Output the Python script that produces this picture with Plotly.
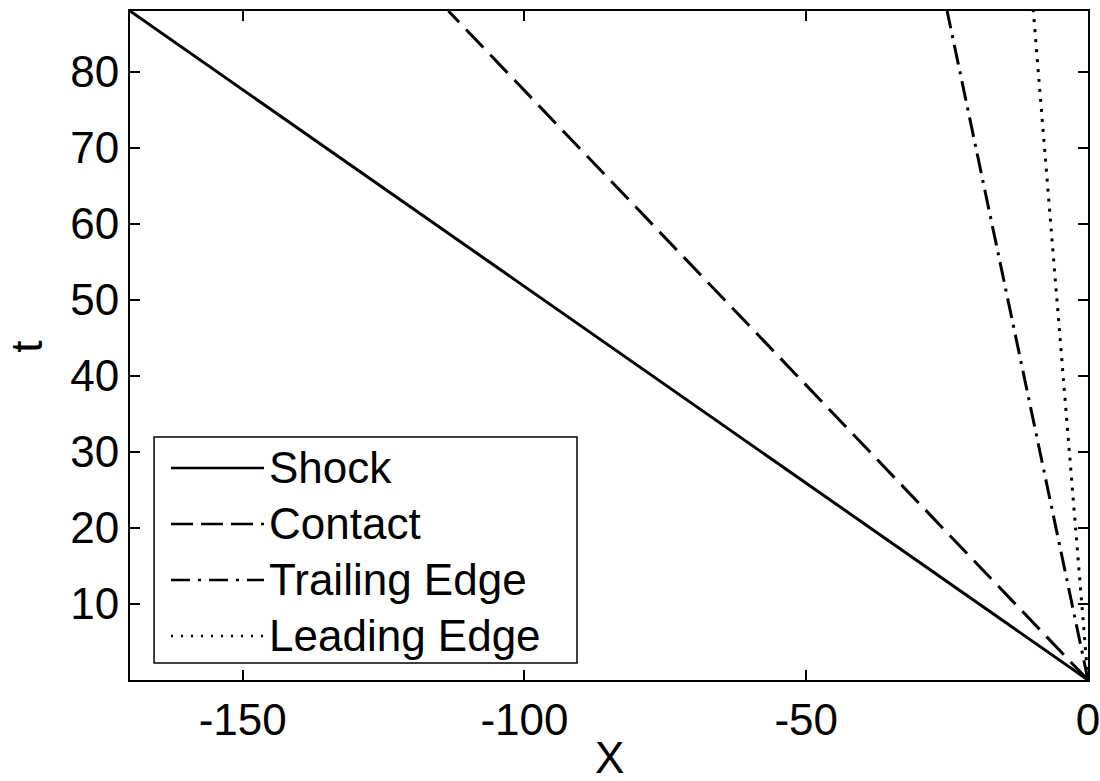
import plotly.graph_objects as go

# ---- data ----
series_names = ["Shock", "Contact", "Trailing Edge", "Leading Edge"]
t_values = [0.0, 88.0]
shock_x = [0.0, -170.0]
contact_x = [0.0, -113.5]
trailing_x = [0.0, -25.0]
leading_x = [0.0, -9.7]

x_ticks = [-150, -100, -50, 0]
x_tick_labels = ["-150", "-100", "-50", "0"]
y_ticks = [10, 20, 30, 40, 50, 60, 70, 80]
y_tick_labels = ["10", "20", "30", "40", "50", "60", "70", "80"]
x_title = "X"
y_title = "t"

FONT = "Liberation Sans, Arial, sans-serif"
FS = 44

dashes_plot = ["solid", "25px,10px", "20px,7px,3px,7px", "3px,7px"]
dashes_leg = ["solid", "22px,8px", "19px,8px,3px,8px", "2px,8px"]
xs = [shock_x, contact_x, trailing_x, leading_x]

fig = go.Figure()
for name, x, d in zip(series_names, xs, dashes_plot):
    fig.add_trace(go.Scatter(x=x, y=t_values, mode="lines", name=name,
                             line=dict(color="black", width=3, dash=d),
                             showlegend=False))

# manual legend (box, sample lines, labels) in paper coordinates
shapes = [dict(type="rect", xref="paper", yref="paper",
               x0=0.0251, x1=0.4666, y0=0.0254, y1=0.3632,
               line=dict(color="black", width=1.5), fillcolor="white", layer="above")]
annotations = []
leg_y = [0.3169, 0.2332, 0.1495, 0.0658]
for name, d, yy in zip(series_names, dashes_leg, leg_y):
    shapes.append(dict(type="line", xref="paper", yref="paper",
                       x0=0.0428, x1=0.1399, y0=yy, y1=yy,
                       line=dict(color="black", width=2.5, dash=d), layer="above"))
    annotations.append(dict(xref="paper", yref="paper", x=0.143, y=yy,
                            xanchor="left", yanchor="middle", text=name,
                            showarrow=False,
                            font=dict(family=FONT, size=FS, color="black")))

# axis titles
annotations.append(dict(xref="paper", yref="paper", x=0.5, y=-0.1151,
                        xanchor="center", yanchor="middle", text=x_title,
                        showarrow=False, font=dict(family=FONT, size=FS, color="black")))
annotations.append(dict(xref="paper", yref="paper", x=-0.1075, y=0.498,
                        xanchor="center", yanchor="middle", text=y_title,
                        textangle=-90, showarrow=False,
                        font=dict(family=FONT, size=FS, color="black")))

fig.update_layout(
    width=1100, height=781,
    margin=dict(l=130, r=12, t=11, b=101),
    paper_bgcolor="white", plot_bgcolor="white",
    font=dict(family=FONT, size=FS, color="black"),
    shapes=shapes, annotations=annotations,
    xaxis=dict(range=[-170, 0], tickvals=x_ticks, ticktext=x_tick_labels,
               ticks="inside", ticklen=10, automargin=False,
               ticklabeloverflow="allow",
               tickwidth=1.5, tickcolor="black", showline=True, linecolor="black",
               linewidth=2, mirror="ticks", showgrid=False, zeroline=False,
               tickfont=dict(size=FS)),
    yaxis=dict(range=[0, 88], tickvals=y_ticks, ticktext=y_tick_labels,
               ticks="inside", ticklen=10, automargin=False,
               ticklabeloverflow="allow",
               tickwidth=1.5, tickcolor="black", showline=True, linecolor="black",
               linewidth=2, mirror="ticks", showgrid=False, zeroline=False,
               tickfont=dict(size=FS)),
)

fig.write_html("out.html")
